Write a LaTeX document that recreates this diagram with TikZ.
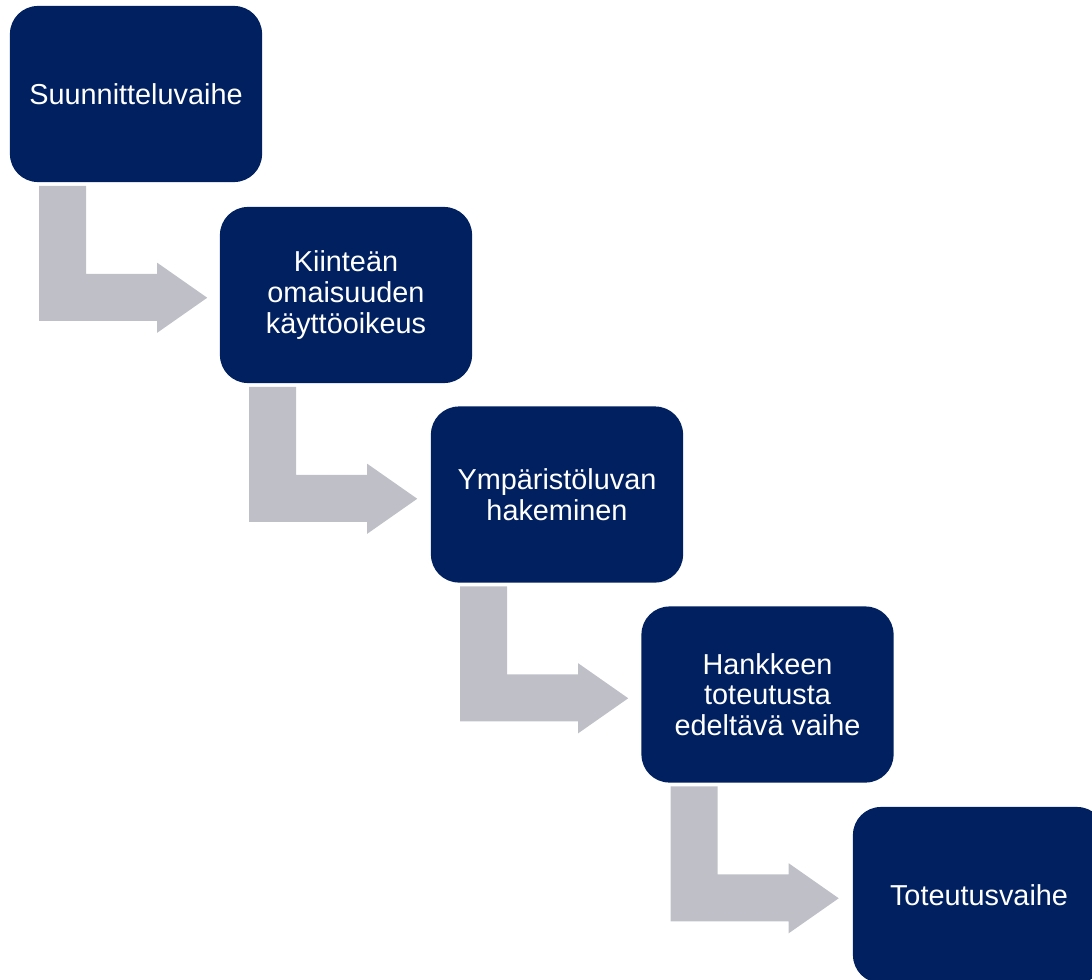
\documentclass[tikz,border=0pt]{standalone}
\usepackage{fontspec}
\setmainfont{Liberation Sans}
\definecolor{navy}{RGB}{0,32,96}
\definecolor{arrowgray}{RGB}{191,192,199}
\begin{document}
\begin{tikzpicture}[x=0.01cm,y=-0.01cm,
  stage/.style={fill=navy, text=white, rounded corners=0.28cm,
    minimum width=2.52cm, minimum height=1.76cm, inner sep=0pt,
    align=center, font=\fontsize{8.2}{8.7}\selectfont},
  bent/.style={fill=arrowgray}]
\useasboundingbox (0,0) rectangle (1092,979);
\clip (0,0) rectangle (1092,979);
\node[stage] (s1) at (136,94) {Suunnitteluvaihe};
\node[stage] (s2) at (346,295) {Kiinteän\\omaisuuden\\käyttöoikeus};
\node[stage] (s3) at (557,494.5) {Ympäristöluvan\\hakeminen};
\node[stage] (s4) at (767.5,694.5) {Hankkeen\\toteutusta\\edeltävä vaihe};
\node[stage] (s5) at (979,895) {Toteutusvaihe};
\foreach \a/\b in {s1/s2,s2/s3,s3/s4,s4/s5}{
  \fill[bent, shift={(\a.south west)}]
    (30,3) -- (77,3) -- (77,91) -- (148,91) -- (148,80) -- (198,115)
    -- (148,150) -- (148,138) -- (30,138) -- cycle;
}
\end{tikzpicture}
\end{document}
